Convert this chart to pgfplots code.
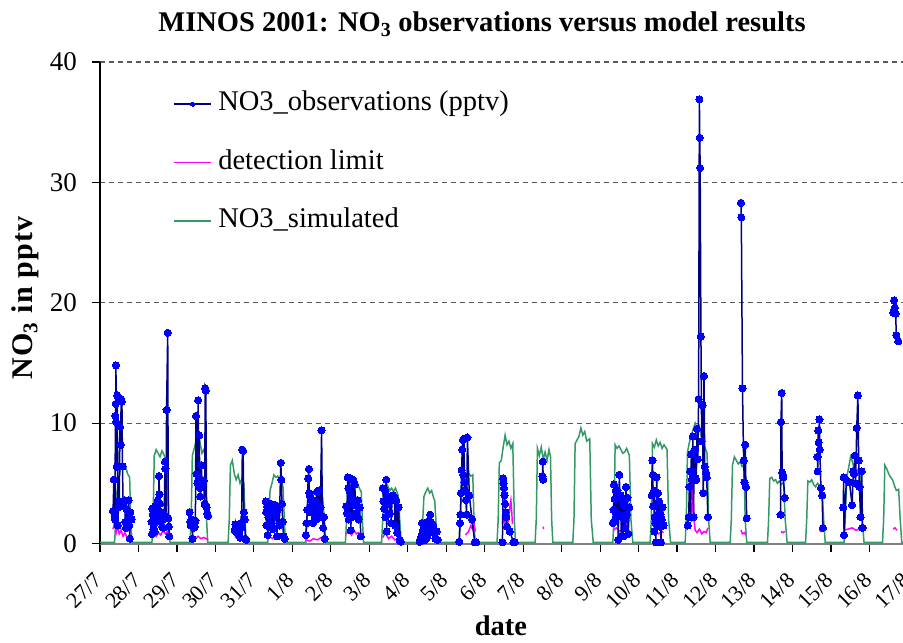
\documentclass[border=0pt]{standalone}
\usepackage{pgfplots}
\pgfplotsset{compat=1.18}
\usepackage{pgfplotstable}
\usepackage{fontspec}
\setmainfont{Liberation Serif}

\definecolor{obsline}{RGB}{0,0,128}
\definecolor{obsmark}{RGB}{0,0,255}
\definecolor{detlim}{RGB}{255,0,255}
\definecolor{simgreen}{RGB}{51,153,102}
\definecolor{gridgray}{RGB}{90,90,90}
\definecolor{axisgray}{RGB}{128,128,128}

% x = days since 27/7 00:00, y = NO3 mixing ratio in pptv
\pgfplotstableread{
d v
0.00 0.1
0.38 0.1
0.41 2.0
0.44 4.2
0.495 5.5
0.55 6.5
0.605 6.3
0.66 6.5
0.715 5.8
0.77 5.5
0.80 2.0
0.83 0.1
1.35 0.1
1.38 2.0
1.41 7.3
1.46 7.8
1.51 7.5
1.56 7.2
1.61 7.7
1.66 7.4
1.71 7.0
1.76 6.6
1.79 2.0
1.82 0.1
2.34 0.1
2.37 2.0
2.40 7.3
2.45 7.9
2.50 8.6
2.55 8.0
2.60 8.4
2.65 7.5
2.70 7.8
2.74 7.2
2.77 2.0
2.80 0.1
3.33 0.1
3.36 2.0
3.39 6.5
3.44 6.9
3.49 5.8
3.54 5.3
3.59 5.7
3.64 5.0
3.69 5.4
3.74 4.9
3.77 2.0
3.80 0.1
4.36 0.1
4.39 2.0
4.42 4.4
4.47 5.0
4.52 5.7
4.57 5.5
4.62 5.6
4.67 5.2
4.72 5.3
4.76 4.6
4.79 2.0
4.82 0.1
5.35 0.1
5.38 2.0
5.41 4.4
5.46 4.2
5.51 3.9
5.56 4.3
5.61 4.0
5.66 3.7
5.71 4.2
5.79 3.8
5.83 2.0
5.87 0.1
6.38 0.1
6.41 2.0
6.44 4.8
6.49 5.5
6.54 5.2
6.59 5.3
6.64 4.7
6.69 5.0
6.74 4.6
6.79 4.3
6.82 2.0
6.85 0.1
7.32 0.1
7.35 2.0
7.38 4.5
7.43 5.0
7.48 4.8
7.53 4.4
7.58 4.6
7.63 4.3
7.68 4.6
7.75 4.0
7.79 2.0
7.83 0.1
8.36 0.1
8.39 2.0
8.42 3.9
8.47 4.3
8.52 4.6
8.57 4.2
8.62 4.4
8.67 3.8
8.70 3.6
8.73 2.0
8.76 0.1
9.33 0.1
9.36 2.0
9.39 4.3
9.44 4.8
9.49 5.2
9.54 5.5
9.59 5.8
9.64 5.6
9.69 5.7
9.72 2.0
9.75 0.1
10.32 0.1
10.35 2.0
10.38 6.7
10.43 6.9
10.48 8.0
10.53 9.0
10.58 8.2
10.63 8.5
10.68 7.9
10.73 8.3
10.77 2.0
10.80 0.1
11.31 0.1
11.34 2.0
11.37 7.9
11.42 7.3
11.47 8.0
11.52 7.0
11.57 7.6
11.62 6.9
11.67 7.8
11.71 7.2
11.74 2.0
11.77 0.1
12.29 0.1
12.32 2.0
12.35 8.3
12.40 8.6
12.45 8.9
12.50 9.6
12.55 9.0
12.60 9.3
12.65 8.5
12.73 8.7
12.77 2.0
12.82 0.1
13.33 0.1
13.36 2.0
13.39 8.2
13.44 7.9
13.49 8.1
13.54 7.8
13.59 7.5
13.64 7.6
13.69 7.9
13.76 7.3
13.80 2.0
13.85 0.1
14.30 0.1
14.33 2.0
14.36 8.3
14.41 8.0
14.46 8.6
14.51 8.1
14.56 8.4
14.61 7.9
14.66 8.2
14.74 7.8
14.78 2.0
14.83 0.1
15.21 0.1
15.24 2.0
15.27 7.6
15.32 8.4
15.37 9.0
15.42 9.5
15.47 10.0
15.52 9.6
15.57 9.8
15.62 9.0
15.70 8.2
15.78 7.5
15.82 2.0
15.86 0.1
16.38 0.1
16.41 2.0
16.44 6.5
16.49 7.2
16.54 6.9
16.59 6.6
16.64 6.8
16.69 6.4
16.74 6.6
16.77 2.0
16.81 0.1
17.35 0.1
17.38 2.0
17.41 5.4
17.46 5.5
17.51 5.2
17.56 5.3
17.61 5.0
17.66 5.2
17.71 4.9
17.77 5.1
17.81 2.0
17.86 0.1
18.34 0.1
18.37 2.0
18.40 5.2
18.45 5.1
18.50 5.3
18.55 4.9
18.60 4.7
18.65 5.0
18.72 4.8
18.77 4.5
18.81 2.0
18.85 0.1
19.34 0.1
19.37 2.0
19.41 5.5
19.46 6.3
19.51 7.2
19.56 6.8
19.61 6.0
19.66 5.8
19.71 6.2
19.77 5.7
19.81 2.0
19.86 0.1
20.34 0.1
20.37 2.0
20.40 6.5
20.45 6.2
20.50 5.8
20.55 5.5
20.60 5.3
20.65 4.8
20.70 4.4
20.76 4.5
20.80 2.0
20.84 0.1
21.00 0.1
}\simtable

\pgfplotstableread{
d v
0.34 1.2
0.38 1.8
0.42 0.9
0.46 1.5
0.50 0.8
0.55 1.1
0.60 0.6
0.65 0.9
0.70 0.5
0.75 0.4
0.80 0.3
nan nan
1.34 0.7
1.40 1.0
1.46 0.6
1.52 0.9
1.58 0.7
1.64 1.1
1.70 0.8
1.76 1.0
1.80 0.6
nan nan
2.33 0.5
2.40 0.3
2.47 0.4
2.55 0.6
2.62 0.4
2.70 0.5
2.76 0.4
2.81 0.3
nan nan
3.50 0.5
3.58 0.6
3.66 0.5
3.74 0.6
3.80 0.4
nan nan
4.31 0.5
4.40 0.6
4.48 0.4
4.56 0.6
4.64 0.5
4.72 0.4
4.80 0.3
nan nan
5.35 0.3
5.45 0.2
5.55 0.4
5.65 0.3
5.75 0.5
5.84 0.2
nan nan
6.40 0.8
6.47 1.0
6.54 0.7
6.60 1.1
6.66 0.8
6.72 0.9
6.78 0.6
nan nan
7.35 0.5
7.42 0.9
7.50 0.4
7.58 0.6
7.66 0.3
7.74 0.4
7.82 0.2
nan nan
8.31 0.5
8.38 1.2
8.45 0.8
8.52 1.3
8.60 0.9
8.68 0.6
8.76 0.4
nan nan
9.50 0.7
9.58 1.0
9.64 1.5
9.68 1.2
9.72 1.6
9.76 1.0
nan nan
10.46 1.6
10.49 2.4
10.52 1.6
10.55 2.0
10.58 1.4
10.63 2.2
10.66 3.2
10.68 3.6
10.70 2.8
10.72 1.6
nan nan
11.52 1.4
11.53 1.2
nan nan
13.35 1.1
13.42 1.3
13.50 1.0
13.58 1.2
13.65 1.1
13.67 2.3
13.72 1.2
13.76 1.0
nan nan
14.36 0.9
14.44 1.1
14.52 0.8
14.60 1.0
14.65 0.9
nan nan
15.38 1.8
15.40 5.8
15.42 4.0
15.44 2.0
15.47 1.1
15.52 0.9
15.58 1.2
15.64 0.8
15.70 1.0
15.76 0.9
15.80 1.3
nan nan
16.66 1.1
16.70 0.8
16.75 0.9
16.79 0.7
nan nan
17.70 1.0
17.75 0.9
17.80 1.0
nan nan
18.70 1.1
18.74 1.0
18.79 1.1
nan nan
19.33 1.1
19.45 1.2
19.55 1.3
19.65 1.1
19.75 1.2
19.82 1.1
nan nan
20.62 1.2
20.66 1.3
20.72 1.1
}\dltable

\pgfplotstableread{
d v
0.34 2.7
0.36 5.3
0.38 2.3
0.39 2.0
0.40 10.6
0.41 11.6
0.415 14.8
0.42 10.1
0.435 6.4
0.45 12.3
0.465 1.5
0.48 3.0
0.50 3.5
0.52 9.7
0.535 8.2
0.55 12.0
0.57 11.8
0.585 6.4
0.60 3.2
0.62 3.1
0.64 3.6
0.66 1.8
0.675 1.3
0.70 2.8
0.72 2.0
0.745 3.6
0.76 1.5
0.775 0.4
0.79 2.6
0.82 2.0
nan nan
1.34 1.8
1.35 0.8
1.36 2.9
1.375 2.4
1.39 1.2
1.40 2.6
1.42 1.0
1.44 3.1
1.455 1.8
1.47 2.7
1.49 2.2
1.50 3.6
1.52 2.2
1.535 5.6
1.545 4.1
1.56 3.3
1.58 1.8
1.60 2.6
1.615 1.4
1.63 2.0
1.65 1.3
1.67 2.4
1.69 6.8
1.70 6.2
1.715 2.2
1.73 11.1
1.76 17.5
1.775 2.1
1.79 1.4
1.80 0.6
nan nan
2.33 2.6
2.345 1.8
2.36 1.5
2.375 2.0
2.39 1.5
2.405 0.4
2.42 1.7
2.44 1.3
2.46 1.4
2.48 1.9
2.495 10.6
2.51 5.8
2.53 5.0
2.55 11.9
2.565 5.5
2.58 9.0
2.595 4.6
2.61 3.9
2.63 6.5
2.66 4.8
2.69 5.2
2.72 3.3
2.735 12.9
2.75 12.7
2.77 3.0
2.79 2.5
2.81 2.3
nan nan
3.50 1.1
3.52 1.6
3.54 1.0
3.56 1.3
3.58 0.8
3.60 1.3
3.62 1.0
3.64 0.5
3.66 1.7
3.68 1.3
3.70 7.8
3.72 7.7
3.74 2.6
3.76 2.0
3.78 0.4
3.80 0.3
nan nan
4.31 3.5
4.32 2.6
4.33 1.5
4.345 3.1
4.36 0.7
4.38 2.2
4.40 1.5
4.42 2.8
4.44 3.3
4.46 1.7
4.48 2.6
4.50 1.2
4.52 3.2
4.54 2.4
4.56 3.2
4.58 2.2
4.60 0.6
4.62 2.8
4.66 1.5
4.70 6.7
4.715 5.3
4.73 3.3
4.75 1.8
4.77 0.6
4.80 0.4
nan nan
5.35 0.7
5.37 1.7
5.39 2.8
5.41 5.4
5.43 6.2
5.44 4.2
5.46 3.9
5.48 2.6
5.50 3.6
5.52 3.2
5.54 1.7
5.56 2.9
5.58 2.2
5.60 3.5
5.62 2.0
5.64 4.3
5.66 3.2
5.68 2.5
5.70 4.4
5.73 3.0
5.76 9.4
5.78 2.2
5.80 1.3
5.82 2.2
5.84 0.4
nan nan
6.40 3.1
6.42 2.5
6.44 5.5
6.455 4.6
6.47 2.0
6.49 5.4
6.505 4.2
6.52 1.1
6.54 3.7
6.56 2.2
6.58 5.3
6.60 3.2
6.62 4.9
6.64 3.6
6.66 2.5
6.68 3.1
6.70 3.6
6.72 2.0
6.75 3.0
6.78 0.6
nan nan
7.35 4.6
7.37 3.5
7.39 2.9
7.41 4.4
7.42 2.2
7.44 5.3
7.45 1.0
7.47 3.9
7.49 3.3
7.51 3.5
7.53 2.5
7.55 3.9
7.57 1.7
7.59 3.6
7.62 4.0
7.65 3.9
7.67 1.5
7.70 3.6
7.73 0.9
7.76 3.0
7.79 0.3
7.82 0.15
nan nan
8.31 0.15
8.33 0.3
8.35 0.6
8.37 1.7
8.39 1.1
8.41 0.7
8.43 0.85
8.45 0.3
8.47 1.2
8.49 0.5
8.51 1.8
8.53 0.85
8.56 1.4
8.58 2.4
8.60 1.8
8.63 1.1
8.66 1.5
8.69 0.85
8.72 0.4
8.75 1.0
8.78 0.3
nan nan
9.34 0.15
9.36 1.7
9.37 2.4
9.385 4.2
9.40 6.1
9.415 7.8
9.43 8.6
9.445 5.7
9.46 8.7
9.475 5.1
9.49 4.4
9.51 3.6
9.53 2.4
9.55 8.8
9.60 4.0
9.67 2.0
9.74 0.1
9.78 0.1
nan nan
10.46 0.1
10.48 5.4
10.49 5.0
10.50 4.6
10.515 4.0
10.53 3.3
10.545 2.6
10.56 2.2
10.58 1.4
10.65 1.0
10.75 0.1
10.78 0.1
nan nan
11.50 5.6
11.51 6.8
11.52 5.3
nan nan
13.33 1.7
13.35 2.8
13.36 4.9
13.38 3.7
13.39 2.0
13.41 4.4
13.42 2.5
13.44 3.8
13.45 4.4
13.47 0.3
13.49 3.9
13.50 5.7
13.52 2.4
13.53 4.0
13.55 0.6
13.57 2.2
13.59 3.5
13.60 0.6
13.62 3.1
13.64 2.0
13.65 1.3
13.67 4.7
13.69 2.4
13.71 3.8
13.73 0.8
13.76 3.0
nan nan
14.34 4.0
14.36 6.9
14.37 5.7
14.38 3.1
14.40 4.4
14.41 1.0
14.42 2.2
14.44 1.7
14.45 0.1
14.47 5.5
14.49 1.6
14.50 4.2
14.52 2.5
14.53 3.5
14.55 1.4
14.57 2.4
14.58 0.1
14.60 2.0
14.62 3.0
14.65 1.5
nan nan
15.28 1.5
15.30 2.2
15.32 4.7
15.34 6.0
15.35 2.2
15.37 7.4
15.38 5.3
15.40 6.0
15.41 8.9
15.43 2.2
15.44 7.7
15.45 5.3
15.47 7.8
15.48 5.4
15.50 5.3
15.52 9.5
15.54 7.0
15.56 12.0
15.58 36.9
15.59 33.7
15.60 31.2
15.62 17.2
15.64 8.5
15.66 11.5
15.68 4.2
15.70 13.9
15.72 6.4
15.75 5.9
15.77 5.5
15.80 2.2
nan nan
16.66 28.3
16.67 27.1
16.70 12.9
16.73 6.9
16.75 5.1
16.77 8.2
16.79 4.7
16.81 2.1
nan nan
17.69 2.4
17.70 10.1
17.72 12.5
17.73 5.9
17.75 5.7
17.76 5.5
17.80 3.8
nan nan
18.65 7.2
18.655 6.0
18.67 9.4
18.68 8.4
18.70 10.3
18.71 7.8
18.74 4.6
18.77 4.0
18.79 1.3
nan nan
19.32 3.0
19.33 5.5
19.34 0.7
19.40 5.3
19.48 5.1
19.55 3.2
19.58 6.0
19.60 5.8
19.62 7.3
19.64 5.0
19.67 9.6
19.70 12.3
19.72 6.9
19.74 4.7
19.77 2.2
19.80 6.0
19.82 1.3
nan nan
20.62 19.2
20.64 20.2
20.66 19.6
20.68 19.1
20.70 17.3
20.75 16.8
}\obstable

\begin{document}
\begin{tikzpicture}
\path[use as bounding box] (0pt,0pt) rectangle (903pt,643pt);
\begin{axis}[
  at={(100pt,99.5pt)}, anchor=south west,
  scale only axis, width=807.9pt, height=481.5pt,
  xmin=0, xmax=21, ymin=0, ymax=40,
  clip=false,
  axis x line*=bottom, axis y line*=left,
  x axis line style={-, draw=axisgray, line width=2pt},
  y axis line style={-, draw=black, line width=1.2pt},
  tick align=outside, major tick length=8pt,
  tick style={black, line width=1.2pt},
  xtick={0,...,21},
  xticklabels={27/7,28/7,29/7,30/7,31/7,1/8,2/8,3/8,4/8,5/8,6/8,7/8,8/8,9/8,10/8,11/8,12/8,13/8,14/8,15/8,16/8,17/8},
  ytick={0,10,20,30,40},
  ymajorgrids,
  grid style={gridgray, line width=1.2pt, dash pattern=on 5pt off 4pt},
  /pgf/number format/assume math mode=true,
  xticklabel style={font=\fontsize{22pt}{24pt}\selectfont, inner sep=0pt,
    xshift=-7pt, yshift=-20pt, rotate=45, anchor=north east},
  yticklabel style={font=\fontsize{27pt}{30pt}\selectfont, anchor=east, inner sep=0pt, xshift=-15pt},
  unbounded coords=jump,
  legend image code/.code={\draw[mark repeat=2,mark phase=2,#1] plot coordinates {(0pt,0pt) (18.5pt,0pt) (37pt,0pt)};},
  legend image post style={mark size=2pt},
  reverse legend,
  legend cell align=left,
  legend style={draw=none, fill=none, at={(axis description cs:0.0907,0.9383)}, anchor=north west,
    inner sep=0pt, outer sep=0pt, row sep=33.5pt, column sep=6.5pt,
    font=\fontsize{28.5pt}{30pt}\selectfont,
    nodes={inner sep=0pt, text height=19pt, text depth=6pt, anchor=west}},
]
\addplot[simgreen, line width=1.5pt, no markers] table[x=d, y=v] {\simtable};
\addlegendentry{NO3\_simulated}
\addplot[detlim, line width=1.5pt, no markers] table[x=d, y=v] {\dltable};
\addlegendentry{detection limit}
\addplot[obsline, line width=1.5pt, mark=*, mark size=3.6pt, mark options={fill=obsmark, draw=obsmark, line width=0pt}] table[x=d, y=v] {\obstable};
\addlegendentry{NO3\_observations (pptv)}
\end{axis}
\node[anchor=base, font=\bfseries\fontsize{28.5pt}{32pt}\selectfont] at (482pt,611pt) {MINOS 2001: NO\textsubscript{3} observations versus model results};
\node[rotate=90, anchor=base, font=\bfseries\fontsize{30pt}{32pt}\selectfont\addfontfeatures{LetterSpace=4}] at (32pt,345pt) {NO\textsubscript{3} in pptv};
\node[anchor=base, font=\bfseries\fontsize{28.5pt}{32pt}\selectfont] at (501pt,7pt) {date};
\end{tikzpicture}
\end{document}
